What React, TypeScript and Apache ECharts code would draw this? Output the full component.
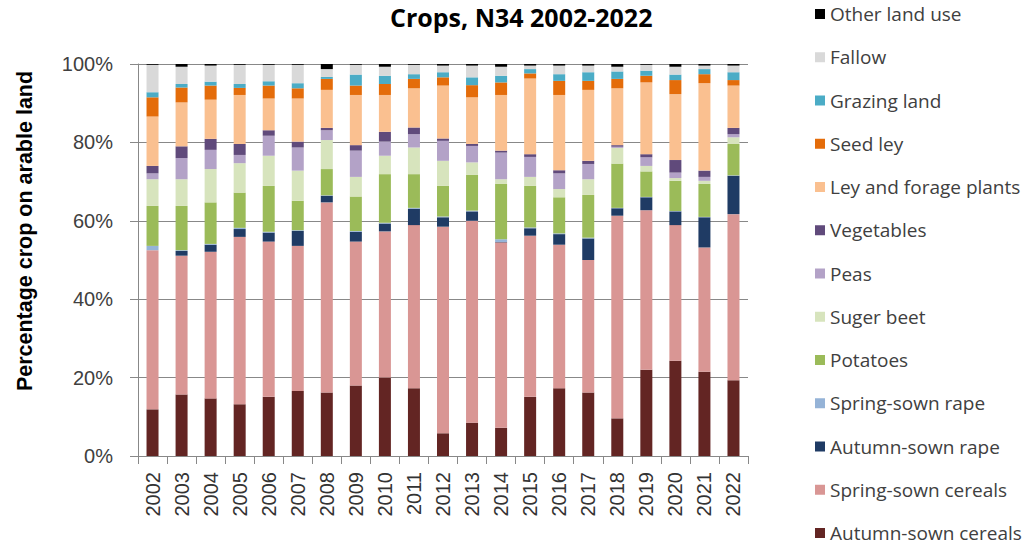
import React, { useEffect, useRef } from "react";
import * as echarts from "echarts";

const years = ["2002","2003","2004","2005","2006","2007","2008","2009","2010","2011","2012","2013","2014","2015","2016","2017","2018","2019","2020","2021","2022"];

const autumnCereals = [11.9,15.7,14.7,13.2,15.1,16.6,16.2,18.0,20.0,17.3,5.8,8.5,7.2,15.1,17.3,16.2,9.6,22.0,24.3,21.5,19.3];
const springCereals = [40.6,35.4,37.4,42.7,39.6,37.0,48.5,36.7,37.3,41.6,52.7,51.5,47.3,41.1,36.6,33.8,51.7,40.7,34.6,31.7,42.4];
const autumnRape = [0,1.2,1.8,2.0,2.3,3.8,1.7,2.5,2.0,4.2,2.4,2.4,0.1,1.9,2.7,5.5,1.9,3.3,3.5,7.7,9.8];
const springRape = [1.1,0.2,0.2,0.3,0.2,0.2,0.1,0.2,0.2,0.2,0.2,0.2,0.7,0.2,0.2,0.2,0.1,0.1,0.1,0.1,0.1];
const potatoes = [10.2,11.3,10.6,9.0,11.7,7.5,6.7,8.8,12.4,8.6,7.8,9.1,14.1,10.6,9.2,10.9,11.3,6.5,7.7,8.4,8.0];
const sugerBeet = [6.8,6.8,8.5,7.5,7.7,7.7,7.4,5.0,4.7,6.8,6.4,3.2,1.2,2.3,2.1,4.0,4.0,1.4,0.7,0.8,1.7];
const peas = [1.5,5.4,4.9,2.1,5.1,5.9,2.5,6.7,3.6,3.4,5.1,4.2,6.8,5.1,4.0,3.9,0.3,2.2,1.4,1.0,0.8];
const vegetables = [1.9,3.0,2.8,2.8,1.4,1.5,0.6,1.4,2.5,1.7,0.6,0.5,0.5,0.7,0.8,0.8,0.4,0.8,3.2,1.6,1.6];
const leyForage = [12.6,11.2,10.0,12.5,8.1,11.0,9.7,12.8,9.4,10.0,13.5,11.9,14.2,19.3,19.2,18.1,14.5,18.3,16.8,22.3,10.8];
const seedLey = [4.9,3.8,3.6,1.8,3.3,2.6,2.8,2.4,2.8,2.4,2.1,3.1,3.2,1.3,3.6,2.3,2.4,1.7,3.6,2.3,1.4];
const grazing = [1.3,0.9,1.0,1.0,1.1,1.3,0.5,2.8,2.1,1.2,1.3,2.0,1.7,1.1,1.7,2.2,1.9,1.3,1.4,1.3,2.0];
const fallow = [7.0,4.4,4.1,4.9,4.2,4.7,2.0,2.5,2.3,2.4,1.7,3.0,2.3,0.9,2.2,1.7,1.2,1.5,2.0,0.9,1.7];
const otherLand = [0.2,0.7,0.4,0.2,0.2,0.2,1.3,0.2,0.7,0.2,0.4,0.4,0.7,0.4,0.4,0.4,0.7,0.2,0.7,0.4,0.4];

const seriesDefs = [
  { name: "Autumn-sown cereals", data: autumnCereals, color: "#632523" },
  { name: "Spring-sown cereals", data: springCereals, color: "#d99694" },
  { name: "Autumn-sown rape", data: autumnRape, color: "#1f3b64" },
  { name: "Spring-sown rape", data: springRape, color: "#95b3d7" },
  { name: "Potatoes", data: potatoes, color: "#9bbb59" },
  { name: "Suger beet", data: sugerBeet, color: "#d7e4bd" },
  { name: "Peas", data: peas, color: "#b3a2c7" },
  { name: "Vegetables", data: vegetables, color: "#604a7b" },
  { name: "Ley and forage plants", data: leyForage, color: "#fac090" },
  { name: "Seed ley", data: seedLey, color: "#e46c0a" },
  { name: "Grazing land", data: grazing, color: "#4bacc6" },
  { name: "Fallow", data: fallow, color: "#d9d9d9" },
  { name: "Other land use", data: otherLand, color: "#000000" },
];

export default function App() {
  const ref = useRef<HTMLDivElement>(null);
  useEffect(() => {
    if (!ref.current) return;
    const chart = echarts.init(ref.current, null, { renderer: "svg" });
    chart.setOption({
      animation: false,
      backgroundColor: "#ffffff",
      title: {
        text: "Crops, N34 2002-2022",
        left: 390,
        top: 4,
        padding: 0,
        textStyle: { fontFamily: "Open Sans", fontWeight: "bold", fontSize: 25, color: "#000" },
      },
      legend: {
        orient: "vertical",
        left: 815,
        top: 4,
        height: 600,
        padding: 0,
        itemWidth: 10,
        itemHeight: 10,
        itemGap: 23.25,
        icon: "rect",
        data: seriesDefs.map((s) => s.name).reverse(),
        textStyle: { fontFamily: "Open Sans", fontSize: 19, color: "#404040", lineHeight: 20 },
      },
      grid: { left: 138, right: 284, top: 64, bottom: 90, containLabel: false },
      xAxis: {
        type: "category",
        data: years,
        axisLine: { lineStyle: { color: "#888888" } },
        axisTick: { show: true, length: 8, lineStyle: { color: "#888888" } },
        axisLabel: {
          rotate: 90,
          margin: 16,
          fontFamily: "Liberation Sans",
          fontSize: 20,
          color: "#333333",
          interval: 0,
        },
      },
      yAxis: {
        type: "value",
        min: 0,
        max: 100,
        interval: 20,
        name: "Percentage crop on arable land",
        nameLocation: "middle",
        nameGap: 102,
        nameTextStyle: {
          fontFamily: "Liberation Sans",
          fontWeight: "bold",
          fontSize: 21.5,
          color: "#000",
          padding: [0, 0, 0, 58],
        },
        axisLine: { show: true, lineStyle: { color: "#888888" } },
        axisTick: { show: true, length: 8, lineStyle: { color: "#888888" } },
        splitLine: { lineStyle: { color: "#888888" } },
        axisLabel: {
          formatter: "{value}%",
          margin: 25,
          fontFamily: "Liberation Sans",
          fontSize: 20,
          color: "#404040",
        },
      },
      series: seriesDefs.map((s) => ({
        name: s.name,
        type: "bar",
        stack: "total",
        barWidth: 12,
        data: s.data,
        itemStyle: { color: s.color },
      })),
    });
    return () => chart.dispose();
  }, []);
  return <div ref={ref} style={{ position: "fixed", left: 0, top: 0, width: 1032, height: 546 }} />;
}
